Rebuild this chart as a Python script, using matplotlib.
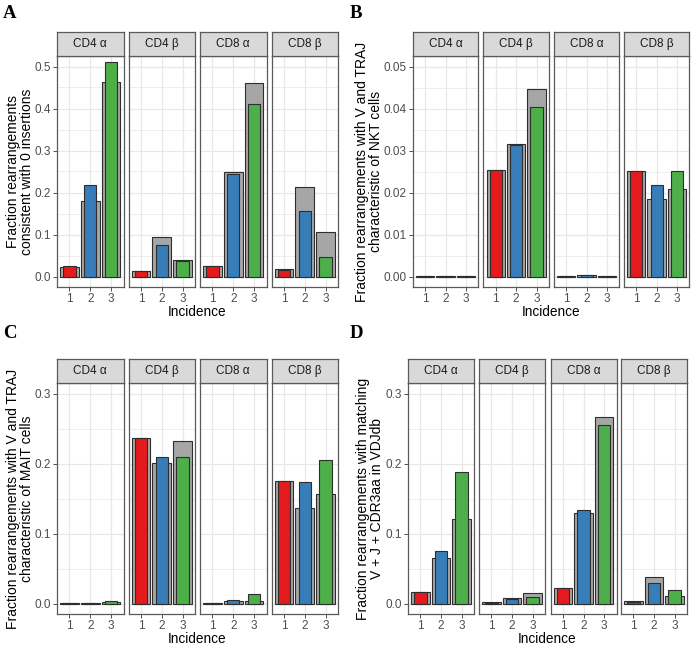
import matplotlib
matplotlib.use("Agg")
import matplotlib.pyplot as plt
import numpy as np

plt.rcParams["font.family"] = ["Liberation Sans", "DejaVu Sans"]

facets = ["CD4 α", "CD4 β", "CD8 α", "CD8 β"]
incidence = [1, 2, 3]
bar_colors = ["#E41A1C", "#377EB8", "#4DAF4A"]

# A: fraction consistent with 0 insertions (grey = wide background bar, colour = front bar)
zero_ins_grey = [[0.0224, 0.180, 0.462], [0.0135, 0.094, 0.040], [0.025, 0.250, 0.460], [0.0175, 0.212, 0.105]]
zero_ins_obs = [[0.0255, 0.218, 0.510], [0.012, 0.074, 0.037], [0.024, 0.244, 0.410], [0.016, 0.156, 0.046]]

# B: V and TRAJ characteristic of NKT cells
nkt_grey = [[0.00015, 0.00008, 0.00008], [0.0253, 0.0316, 0.0446], [0.0002, 0.0004, 0.00008], [0.0251, 0.0184, 0.0208]]
nkt_obs = [[0.00012, 0.00005, 0.00005], [0.0253, 0.0312, 0.0403], [0.0001, 0.0003, 0.00005], [0.0251, 0.0218, 0.0251]]

# C: V and TRAJ characteristic of MAIT cells
mait_grey = [[0.0005, 0.0005, 0.002], [0.237, 0.201, 0.232], [0.001, 0.003, 0.003], [0.175, 0.137, 0.157]]
mait_obs = [[0.0003, 0.0003, 0.003], [0.237, 0.209, 0.210], [0.001, 0.005, 0.013], [0.175, 0.174, 0.205]]

# D: matching V + J + CDR3aa in VDJdb
vdjdb_grey = [[0.0165, 0.065, 0.121], [0.0015, 0.0075, 0.015], [0.022, 0.130, 0.266], [0.003, 0.038, 0.011]]
vdjdb_obs = [[0.017, 0.075, 0.188], [0.001, 0.006, 0.009], [0.022, 0.134, 0.255], [0.0025, 0.030, 0.020]]

W, H = 694, 653
fig = plt.figure(figsize=(W / 100, H / 100), dpi=100)

BORDER = "#5A5A5A"
GRID = "#E8E8E8"


def px_axes(x0, y0, x1, y1):
    return fig.add_axes([x0 / W, 1 - y1 / H, (x1 - x0) / W, (y1 - y0) / H])


def draw_panel(letter, lefts, width, strip_top, strip_bot, plot_bot, ymax, step, fmt,
               ylabel, grey, obs, ylab_x, letter_x, letter_y):
    ylim = (-0.05 * ymax, 1.05 * ymax)
    major = np.arange(0, ymax + step / 2, step)
    minor = np.arange(step / 2, ymax, step)
    for i, name in enumerate(facets):
        left = lefts[i]
        ax = px_axes(left, strip_bot, left + width, plot_bot)
        ax.set_xlim(0.4, 3.6)
        ax.set_ylim(ylim)
        ax.set_axisbelow(True)
        ax.set_xticks(incidence)
        ax.set_yticks(major)
        ax.set_yticks(minor, minor=True)
        ax.set_yticklabels([fmt.format(v) for v in major])
        ax.grid(which="major", color=GRID, lw=0.9)
        ax.grid(which="minor", axis="y", color=GRID, lw=0.5)
        ax.bar(incidence, grey[i], width=0.9, color="#A6A6A6", edgecolor="#2E2E2E", lw=0.8, zorder=2)
        ax.bar(incidence, obs[i], width=0.6, color=bar_colors, edgecolor="#2E2E2E", lw=0.8, zorder=3)
        for s in ax.spines.values():
            s.set_color(BORDER)
            s.set_linewidth(0.9)
        ax.tick_params(axis="both", which="major", length=3, color="#333333", width=0.6,
                       labelsize=8.5, labelcolor="#4D4D4D", pad=1.5)
        ax.tick_params(axis="y", which="minor", left=False)
        if i > 0:
            ax.tick_params(axis="y", left=False, labelleft=False)

        sax = px_axes(left, strip_top, left + width, strip_bot)
        sax.set_facecolor("#D9D9D9")
        sax.set_xticks([])
        sax.set_yticks([])
        for s in sax.spines.values():
            s.set_color(BORDER)
            s.set_linewidth(0.9)
        sax.text(0.5, 0.5, name, ha="center", va="center", fontsize=8.5, color="#1A1A1A",
                 transform=sax.transAxes)

    mid_y = (strip_bot + plot_bot) / 2
    fig.text(ylab_x / W, 1 - mid_y / H, ylabel, rotation=90, ha="center", va="center",
             multialignment="center", fontsize=10, linespacing=1.0)
    mid_x = (lefts[0] + lefts[-1] + width) / 2
    fig.text(mid_x / W, 1 - (plot_bot + 25) / H, "Incidence", ha="center", va="center", fontsize=9.8)
    fig.text(letter_x / W, 1 - letter_y / H, letter, ha="left", va="center", fontsize=13.5,
             fontweight="bold", family="Liberation Serif")


draw_panel("A", [57, 128.5, 200, 271.5], 66.5, 32, 56, 287, 0.5, 0.1, "{:.1f}",
           "Fraction rearrangements\nconsistent with 0 insertions",
           zero_ins_grey, zero_ins_obs, 20, 3, 13)
draw_panel("B", [413, 483.5, 554, 624], 65.25, 32, 56, 287, 0.05, 0.01, "{:.2f}",
           "Fraction rearrangements with V and TRAJ\ncharacteristic of NKT cells",
           nkt_grey, nkt_obs, 369, 350, 13)
draw_panel("C", [57, 128.5, 200, 271.5], 66.5, 359, 383, 614, 0.3, 0.1, "{:.1f}",
           "Fraction rearrangements with V and TRAJ\ncharacteristic of MAIT cells",
           mait_grey, mait_obs, 20, 3, 334)
draw_panel("D", [408, 479, 550.5, 621], 66, 359, 383, 614, 0.3, 0.1, "{:.1f}",
           "Fraction rearrangements with matching\nV + J + CDR3aa in VDJdb",
           vdjdb_grey, vdjdb_obs, 370, 350, 334)

fig.savefig("out.png", dpi=100)
